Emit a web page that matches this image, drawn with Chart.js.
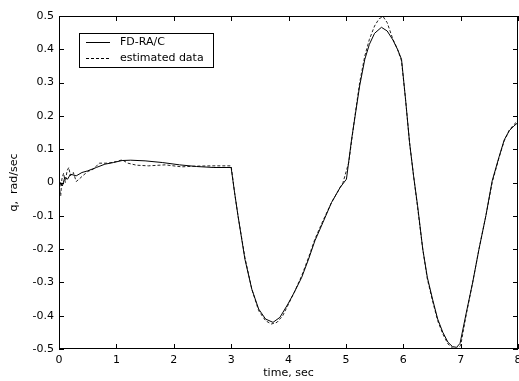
<!DOCTYPE html>
<html lang="en">
  <head>
    <meta charset="UTF-8" />
    <title>q vs time</title>
    <script src="https://cdn.jsdelivr.net/npm/chart.js@4.4.1/dist/chart.umd.min.js"></script>
    <style>
      html, body { margin: 0; padding: 0; background: #ffffff; }
      #wrap { width: 519px; height: 381px; }
    </style>
  </head>
  <body>
    <div id="wrap"><canvas id="qChart" width="519" height="381"></canvas></div>
    <script>
      // FD-RA/C (solid)
      const fdTime = [0, 0.03, 0.06, 0.1, 0.15, 0.2, 0.3, 0.4, 0.5, 0.65, 0.8, 0.95, 1.1, 1.25, 1.5, 1.8, 2.1, 2.4, 2.7, 3.0,
        3.06, 3.12, 3.24, 3.36, 3.48, 3.6, 3.73, 3.85, 3.99, 4.1, 4.23, 4.35, 4.46, 4.6, 4.75, 4.9, 5.01, 5.1, 5.24, 5.33,
        5.41, 5.5, 5.62, 5.72, 5.82, 5.9, 5.97, 6.04, 6.11, 6.18, 6.25, 6.34, 6.42, 6.51, 6.6, 6.69, 6.78, 6.86, 6.93, 6.99,
        7.1, 7.21, 7.32, 7.44, 7.55, 7.67, 7.76, 7.85, 7.93, 8.0];
      const fdQ = [-0.02, 0.0, -0.01, 0.015, 0.01, 0.025, 0.02, 0.03, 0.035, 0.045, 0.055, 0.06, 0.066, 0.067, 0.065, 0.06, 0.053, 0.048, 0.045, 0.045,
        -0.03, -0.1, -0.23, -0.32, -0.38, -0.41, -0.42, -0.405, -0.365, -0.33, -0.285, -0.23, -0.175, -0.12, -0.06, -0.015, 0.01, 0.13, 0.29, 0.37,
        0.415, 0.448, 0.466, 0.455, 0.428, 0.4, 0.37, 0.25, 0.12, 0.02, -0.07, -0.2, -0.285, -0.35, -0.41, -0.45, -0.48, -0.493, -0.495, -0.483,
        -0.39, -0.3, -0.2, -0.1, 0.005, 0.077, 0.128, 0.156, 0.17, 0.18];

      // estimated data (dashed)
      const estTime = [0, 0.03, 0.05, 0.08, 0.11, 0.14, 0.17, 0.2, 0.25, 0.3, 0.35, 0.4, 0.5, 0.6, 0.7, 0.86, 1.0, 1.1, 1.2, 1.35,
        1.56, 1.85, 2.14, 2.37, 2.66, 3.0, 3.06, 3.12, 3.24, 3.36, 3.48, 3.6, 3.7, 3.8, 3.9, 4.0, 4.1, 4.23, 4.35, 4.46,
        4.6, 4.75, 4.85, 4.95, 5.05, 5.15, 5.24, 5.33, 5.41, 5.5, 5.58, 5.65, 5.72, 5.82, 5.9, 5.97, 6.04, 6.11, 6.18, 6.25,
        6.34, 6.42, 6.51, 6.6, 6.69, 6.78, 6.86, 6.93, 7.0, 7.1, 7.21, 7.32, 7.44, 7.55, 7.67, 7.76, 7.85, 7.93, 8.0];
      const estQ = [-0.01, -0.04, 0.01, 0.028, 0.0, 0.035, 0.045, 0.02, 0.03, 0.003, 0.01, 0.018, 0.033, 0.04, 0.058, 0.058, 0.063, 0.068, 0.058, 0.052,
        0.05, 0.053, 0.047, 0.049, 0.05, 0.05, -0.03, -0.1, -0.225, -0.32, -0.385, -0.415, -0.425, -0.42, -0.4, -0.365, -0.33, -0.28, -0.225, -0.17,
        -0.115, -0.06, -0.03, 0.0, 0.06, 0.19, 0.3, 0.38, 0.43, 0.47, 0.492, 0.498, 0.48, 0.43, 0.4, 0.365, 0.25, 0.12, 0.02, -0.075,
        -0.2, -0.29, -0.355, -0.415, -0.455, -0.485, -0.497, -0.5, -0.49, -0.395, -0.3, -0.2, -0.1, 0.0, 0.075, 0.125, 0.158, 0.174, 0.186];

      const xTicks = [0, 1, 2, 3, 4, 5, 6, 7, 8];
      const yTicks = [-0.5, -0.4, -0.3, -0.2, -0.1, 0, 0.1, 0.2, 0.3, 0.4, 0.5];

      const FONT = "'DejaVu Sans', Verdana, sans-serif";
      const toPoints = (xs, ys) => xs.map((x, i) => ({ x: x, y: ys[i] }));

      // MATLAB style box with inward ticks + legend inside the axes
      const boxPlugin = {
        id: "matlabBox",
        afterDatasetsDraw(chart) {
          const { ctx, chartArea: a, scales } = chart;
          ctx.save();
          ctx.strokeStyle = "#000";
          ctx.lineWidth = 1;
          ctx.strokeRect(a.left + 0.5, a.top + 0.5, a.right - a.left - 1, a.bottom - a.top - 1);
          const tl = 5;
          ctx.beginPath();
          xTicks.forEach((v) => {
            const px = Math.round(scales.x.getPixelForValue(v)) + 0.5;
            ctx.moveTo(px, a.bottom); ctx.lineTo(px, a.bottom - tl);
            ctx.moveTo(px, a.top); ctx.lineTo(px, a.top + tl);
          });
          yTicks.forEach((v) => {
            const py = Math.round(scales.y.getPixelForValue(v)) + 0.5;
            ctx.moveTo(a.left, py); ctx.lineTo(a.left + tl, py);
            ctx.moveTo(a.right, py); ctx.lineTo(a.right - tl, py);
          });
          ctx.stroke();

          // legend
          const lx = 79, ly = 33, lw = 134, lh = 34;
          ctx.fillStyle = "#fff";
          ctx.fillRect(lx, ly, lw, lh);
          ctx.strokeRect(lx + 0.5, ly + 0.5, lw, lh);
          ctx.font = "11px " + FONT;
          ctx.textBaseline = "middle";
          chart.data.datasets.forEach((ds, i) => {
            const y = ly + 9.5 + i * 16;
            ctx.setLineDash(ds.borderDash || []);
            ctx.beginPath();
            ctx.moveTo(86, y); ctx.lineTo(110, y);
            ctx.stroke();
            ctx.setLineDash([]);
            ctx.fillStyle = "#000";
            ctx.fillText(ds.label, 120, y);
          });
          ctx.restore();
        },
      };

      const qChart = new Chart(document.getElementById("qChart"), {
        type: "line",
        data: {
          datasets: [
            {
              label: "FD-RA/C",
              data: toPoints(fdTime, fdQ),
              borderColor: "#000",
              borderWidth: 1,
              pointRadius: 0,
              tension: 0,
              fill: false,
            },
            {
              label: "estimated data",
              data: toPoints(estTime, estQ),
              borderColor: "#222",
              borderWidth: 1,
              borderDash: [3, 2],
              pointRadius: 0,
              tension: 0,
              fill: false,
            },
          ],
        },
        options: {
          responsive: false,
          animation: false,
          layout: { padding: { left: 0, top: 16, right: 1, bottom: 0 } },
          plugins: { legend: { display: false }, tooltip: { enabled: false } },
          scales: {
            x: {
              type: "linear",
              min: 0,
              max: 8,
              afterFit: (s) => { s.height = 32; s.paddingLeft = 0; s.paddingRight = 0; },
              afterBuildTicks: (s) => { s.ticks = xTicks.map((v) => ({ value: v })); },
              grid: { display: false, drawTicks: false },
              border: { display: false },
              ticks: { color: "#000", font: { family: FONT, size: 11 }, padding: 5, maxRotation: 0 },
              title: { display: true, text: "time, sec", color: "#000", font: { family: FONT, size: 11 }, padding: { top: 0, bottom: 1 } },
            },
            y: {
              type: "linear",
              min: -0.5,
              max: 0.5,
              afterFit: (s) => { s.width = 59; s.paddingTop = 0; s.paddingBottom = 0; },
              afterBuildTicks: (s) => { s.ticks = yTicks.map((v) => ({ value: v })); },
              grid: { display: false, drawTicks: false },
              border: { display: false },
              ticks: {
                color: "#000",
                font: { family: FONT, size: 11 },
                padding: 5,
                callback: (v) => (Math.abs(v) < 1e-9 ? "0" : v.toFixed(1)),
              },
              title: { display: true, text: "q,  rad/sec", color: "#000", font: { family: FONT, size: 11 }, padding: { top: 8, bottom: 0 } },
            },
          },
        },
        plugins: [boxPlugin],
      });
    </script>
  </body>
</html>
